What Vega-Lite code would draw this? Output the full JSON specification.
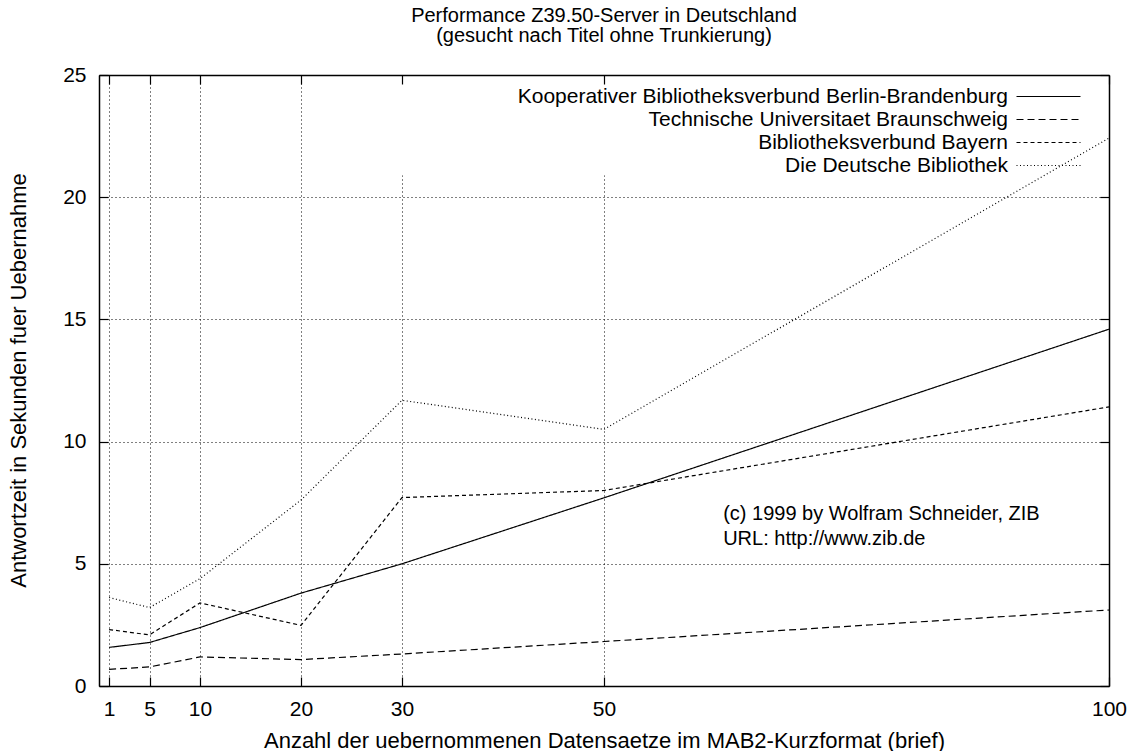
{
  "$schema": "https://vega.github.io/schema/vega-lite/v6.json",
  "width": 1010,
  "height": 611,
  "autosize": {"type": "none"},
  "padding": {"left": 99, "top": 75, "right": 18, "bottom": 65},
  "background": "white",
  "config": {"font": "Liberation Sans", "view": {"stroke": null}},
  "title": {
    "text": ["Performance Z39.50-Server in Deutschland", "(gesucht nach Titel ohne Trunkierung)"],
    "fontSize": 20,
    "fontWeight": "normal",
    "color": "black",
    "lineHeight": 20,
    "anchor": "middle",
    "offset": 18
  },
  "datasets": {
    "perf": [
      {"n": 1, "server": "Kooperativer Bibliotheksverbund Berlin-Brandenburg", "sek": 1.58},
      {"n": 5, "server": "Kooperativer Bibliotheksverbund Berlin-Brandenburg", "sek": 1.78},
      {"n": 10, "server": "Kooperativer Bibliotheksverbund Berlin-Brandenburg", "sek": 2.39},
      {"n": 20, "server": "Kooperativer Bibliotheksverbund Berlin-Brandenburg", "sek": 3.8},
      {"n": 30, "server": "Kooperativer Bibliotheksverbund Berlin-Brandenburg", "sek": 5.0},
      {"n": 50, "server": "Kooperativer Bibliotheksverbund Berlin-Brandenburg", "sek": 7.7},
      {"n": 100, "server": "Kooperativer Bibliotheksverbund Berlin-Brandenburg", "sek": 14.6},
      {"n": 1, "server": "Technische Universitaet Braunschweig", "sek": 0.68},
      {"n": 5, "server": "Technische Universitaet Braunschweig", "sek": 0.78},
      {"n": 10, "server": "Technische Universitaet Braunschweig", "sek": 1.19},
      {"n": 20, "server": "Technische Universitaet Braunschweig", "sek": 1.08},
      {"n": 30, "server": "Technische Universitaet Braunschweig", "sek": 1.31},
      {"n": 50, "server": "Technische Universitaet Braunschweig", "sek": 1.82},
      {"n": 100, "server": "Technische Universitaet Braunschweig", "sek": 3.11},
      {"n": 1, "server": "Bibliotheksverbund Bayern", "sek": 2.31},
      {"n": 5, "server": "Bibliotheksverbund Bayern", "sek": 2.09},
      {"n": 10, "server": "Bibliotheksverbund Bayern", "sek": 3.4},
      {"n": 20, "server": "Bibliotheksverbund Bayern", "sek": 2.48},
      {"n": 30, "server": "Bibliotheksverbund Bayern", "sek": 7.71},
      {"n": 50, "server": "Bibliotheksverbund Bayern", "sek": 8.0},
      {"n": 100, "server": "Bibliotheksverbund Bayern", "sek": 11.42},
      {"n": 1, "server": "Die Deutsche Bibliothek", "sek": 3.62},
      {"n": 5, "server": "Die Deutsche Bibliothek", "sek": 3.21},
      {"n": 10, "server": "Die Deutsche Bibliothek", "sek": 4.39},
      {"n": 20, "server": "Die Deutsche Bibliothek", "sek": 7.61},
      {"n": 30, "server": "Die Deutsche Bibliothek", "sek": 11.69},
      {"n": 50, "server": "Die Deutsche Bibliothek", "sek": 10.5},
      {"n": 100, "server": "Die Deutsche Bibliothek", "sek": 22.42}
    ]
  },
  "layer": [
    {
      "layer": [
        {
          "data": {"values": [{}]},
          "mark": {"type": "rect", "fill": "white", "stroke": null},
          "encoding": {
            "x": {"datum": 24, "type": "quantitative"},
            "x2": {"datum": 100},
            "y": {"datum": 20.9, "type": "quantitative"},
            "y2": {"datum": 25}
          }
        },
        {
          "data": {"name": "perf"},
          "mark": {"type": "line", "color": "black", "strokeWidth": 1.2},
          "encoding": {
            "x": {
              "field": "n",
              "type": "quantitative",
              "scale": {"domain": [0, 100], "nice": false, "zero": false},
              "axis": {
                "values": [1, 5, 10, 20, 30, 50, 100],
                "grid": true,
                "gridColor": "black",
                "gridDash": [1, 3],
                "gridWidth": 1,
                "gridOpacity": 1,
                "tickSize": -9,
                "tickColor": "black",
                "tickWidth": 1.2,
                "domainColor": "black",
                "domainWidth": 1.5,
                "labelFontSize": 21,
                "labelColor": "black",
                "labelPadding": 21,
                "labelFlush": false,
                "labelOverlap": false,
                "title": "Anzahl der uebernommenen Datensaetze im MAB2-Kurzformat (brief)",
                "titleFontSize": 22,
                "titleFontWeight": "normal",
                "titleColor": "black",
                "titleX": 505,
                "titleY": 54,
                "titleBaseline": "middle",
                "titleAlign": "center",
                "zindex": 0
              }
            },
            "y": {
              "field": "sek",
              "type": "quantitative",
              "scale": {"domain": [0, 25], "nice": false, "zero": false},
              "axis": {
                "values": [0, 5, 10, 15, 20, 25],
                "grid": true,
                "gridColor": "black",
                "gridDash": [1, 3],
                "gridWidth": 1,
                "gridOpacity": 1,
                "tickSize": -9,
                "tickColor": "black",
                "tickWidth": 1.2,
                "domainColor": "black",
                "domainWidth": 1.5,
                "labelFontSize": 21,
                "labelColor": "black",
                "labelPadding": 22,
                "labelFlush": false,
                "labelOverlap": false,
                "title": "Antwortzeit in Sekunden fuer Uebernahme",
                "titleFontSize": 22,
                "titleFontWeight": "normal",
                "titleColor": "black",
                "titleAngle": -90,
                "titleX": -81,
                "titleY": 305,
                "titleBaseline": "middle",
                "titleAlign": "center",
                "zindex": 0
              }
            },
            "strokeDash": {
              "field": "server",
              "type": "nominal",
              "scale": {
                "domain": ["Kooperativer Bibliotheksverbund Berlin-Brandenburg", "Technische Universitaet Braunschweig", "Bibliotheksverbund Bayern", "Die Deutsche Bibliothek"],
                "range": [[1, 0], [7, 4], [4, 3], [1, 2.5]]
              },
              "legend": {
                "title": null,
                "orient": "none",
                "legendX": 939,
                "legendY": 11,
                "symbolType": "M-8,0H8",
                "symbolSize": 64,
                "symbolStrokeColor": "black",
                "symbolStrokeWidth": 1.2,
                "symbolFillColor": "transparent",
                "labelAlign": "right",
                "labelOffset": -51,
                "labelFontSize": 21,
                "labelColor": "black",
                "labelLimit": 800,
                "rowPadding": 1,
                "padding": 0
              }
            }
          }
        },
        {
          "data": {"values": [{}]},
          "mark": {
            "type": "text",
            "text": ["(c) 1999 by Wolfram Schneider, ZIB", "URL: http://www.zib.de"],
            "align": "left",
            "baseline": "top",
            "fontSize": 20,
            "lineHeight": 25,
            "color": "black"
          },
          "encoding": {
            "x": {"datum": 61.8, "type": "quantitative"},
            "y": {"datum": 7.45, "type": "quantitative"}
          }
        }
      ]
    },
    {
      "data": {"name": "perf"},
      "mark": {"type": "point", "opacity": 0},
      "encoding": {
        "x": {
          "field": "n",
          "type": "quantitative",
          "axis": {
            "orient": "top",
            "values": [1, 5, 10, 20, 30, 50, 100],
            "labels": false,
            "title": null,
            "grid": false,
            "tickSize": -9,
            "tickColor": "black",
            "tickWidth": 1.2,
            "domainColor": "black",
            "domainWidth": 1.5,
            "zindex": 1
          }
        },
        "y": {
          "field": "sek",
          "type": "quantitative",
          "axis": {
            "orient": "right",
            "values": [0, 5, 10, 15, 20, 25],
            "labels": false,
            "title": null,
            "grid": false,
            "tickSize": -9,
            "tickColor": "black",
            "tickWidth": 1.2,
            "domainColor": "black",
            "domainWidth": 1.5,
            "zindex": 1
          }
        }
      }
    }
  ],
  "resolve": {"axis": {"x": "independent", "y": "independent"}}
}
